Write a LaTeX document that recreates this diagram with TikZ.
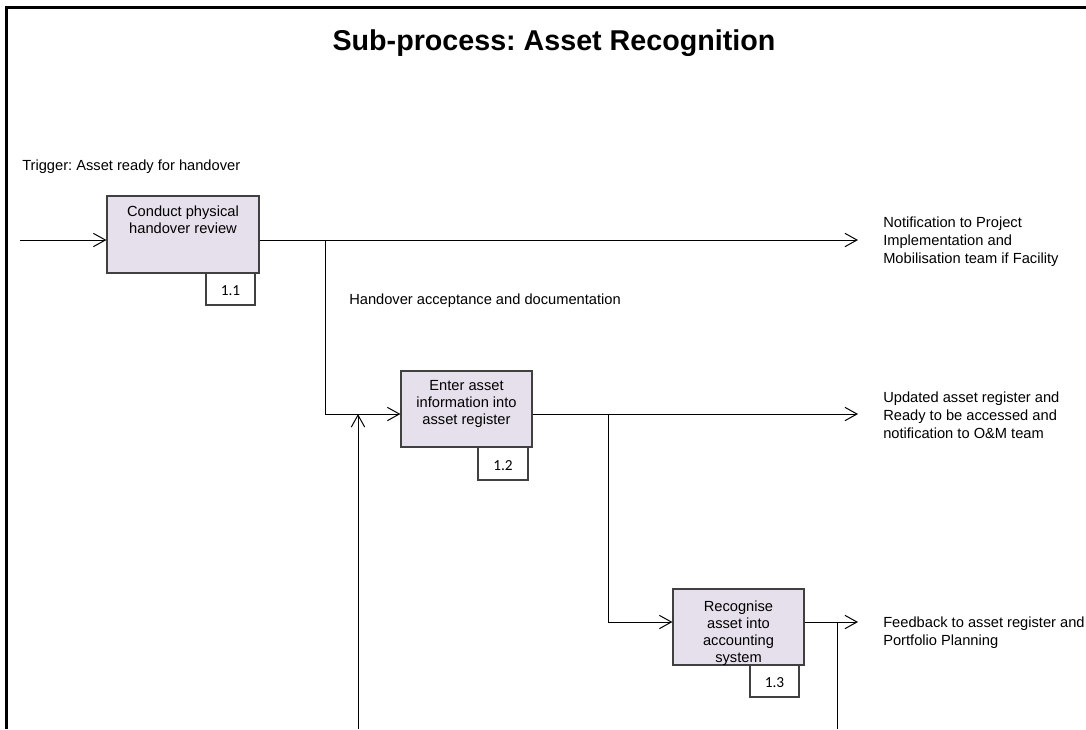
\documentclass[tikz,border=0pt]{standalone}
\usepackage{fontspec}
\setmainfont{Liberation Sans}
\newfontfamily\tagfont{Carlito}
\frenchspacing
\usetikzlibrary{arrows.meta,fit,calc}
\definecolor{procfill}{HTML}{E6E0EC}
\definecolor{procline}{HTML}{404040}
\begin{document}
\begin{tikzpicture}[x=0.75pt,y=-0.75pt,
  procbox/.style={draw=procline, fill=procfill, line width=0.9pt, inner sep=0pt},
  tagbox/.style={draw=procline, fill=white, line width=0.9pt, inner sep=0pt},
  tagnum/.style={anchor=center, inner sep=0pt, font=\tagfont\fontsize{11.5}{13}\selectfont},
  boxtext/.style={anchor=north, inner sep=0pt, align=center, font=\fontsize{11}{12.75}\selectfont},
  outtext/.style={anchor=north west, inner sep=0pt, align=left, font=\fontsize{11}{13.5}\selectfont},
  plaintext/.style={anchor=base west, inner sep=0pt, font=\fontsize{11}{13.5}\selectfont},
  link/.style={draw, line width=0.75pt},
  flow/.style={link, -{Straight Barb[length=9pt,width=10pt,line width=0.75pt]}}
]
\useasboundingbox (0,0) rectangle (1086,729);

% frame
\draw[line width=1.6pt] (6.5,729) -- (6.5,7.5) -- (1086,7.5);

% title
\node[anchor=base, inner sep=0pt, font=\fontsize{21.5}{25}\selectfont\bfseries] (title) at (554,50) {Sub-process: Asset Recognition};

% activity boxes with their number tags
\node[tagbox, fit={(206,273) (255,305)}] (t1) {};
\node[tagnum] (t1num) at ($(t1.center)+(0,2)$) {1.1};
\node[procbox, fit={(107,196) (259,273)}] (b1) {};
\node[boxtext] (b1txt) at ($(b1.north)+(0,10)$) {Conduct physical\\handover review};

\node[tagbox, fit={(478,447) (528,480)}] (t2) {};
\node[tagnum] (t2num) at ($(t2.center)+(0,2)$) {1.2};
\node[procbox, fit={(401,371) (532,447)}] (b2) {};
\node[boxtext] (b2txt) at ($(b2.north)+(0,9.5)$) {Enter asset\\information into\\asset register};

\node[tagbox, fit={(750,665) (799,697)}] (t3) {};
\node[tagnum] (t3num) at ($(t3.center)+(0,2)$) {1.3};
\node[procbox, fit={(673,589) (804,665)}] (b3) {};
\node[boxtext] (b3txt) at ($(b3.north)+(0,12.5)$) {Recognise\\asset into\\accounting\\system};

% connector end points
\coordinate (in1) at (20,240);
\coordinate (o1) at (858,240);
\coordinate (j1) at (325,240);
\coordinate (o2) at (858,414);
\coordinate (j2) at (608,414);
\coordinate (fb) at (358,729);
\coordinate (o3) at (858,622);
\coordinate (j3) at (837,622);
\coordinate (fb2) at (837,729);

% connectors
\draw[flow] (in1) -- (in1 -| b1.west);
\draw[flow] (b1.east |- o1) -- (o1);
\draw[flow] (j1) |- (b2.west |- o2);
\draw[flow] (fb) -- (fb |- o2);
\draw[flow] (b2.east |- o2) -- (o2);
\draw[flow] (j2) |- (b3.west |- o3);
\draw[flow] (b3.east |- o3) -- (o3);
\draw[link] (j3) -- (fb2);

% labels
\node[plaintext] (trig) at (22,170) {Trigger: Asset ready for handover};
\node[plaintext] (hand) at (349,304) {Handover acceptance and documentation};
\node[outtext] (out1) at (883,216.5) {Notification to Project\\Implementation and\\Mobilisation team if Facility};
\node[outtext] (out2) at (883,391.5) {Updated asset register and\\Ready to be accessed and\\notification to O\&M team};
\node[outtext] (out3) at (883,616.5) {Feedback to asset register and\\Portfolio Planning};
\end{tikzpicture}
\end{document}
